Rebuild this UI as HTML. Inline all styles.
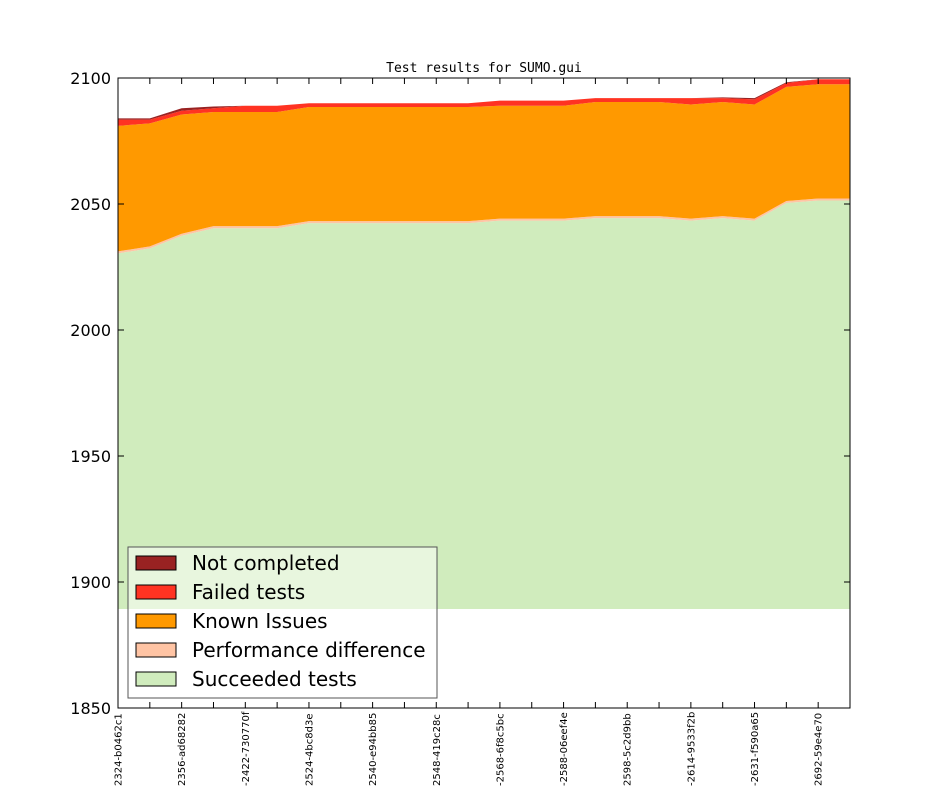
<!DOCTYPE html>
<html><head><meta charset="utf-8"><style>
html,body{margin:0;padding:0;background:#fff;width:944px;height:787px;overflow:hidden}
svg text{font-family:"DejaVu Sans","Liberation Sans",sans-serif}
</style></head><body>
<svg id="s" width="944" height="787" xmlns="http://www.w3.org/2000/svg">
<text x="484" y="72" text-anchor="middle" font-size="13" style="font-family:'DejaVu Sans Mono','Liberation Mono',monospace">Test results for SUMO.gui</text>
<g id="areas"></g>
<rect x="118" y="78" width="732" height="630" fill="none" stroke="#000" stroke-width="1"/>
<g id="ticks" stroke="#000" stroke-width="1"></g>
<g font-size="16" text-anchor="end">
<text x="111" y="84">2100</text>
<text x="111" y="210">2050</text>
<text x="111" y="336">2000</text>
<text x="111" y="462">1950</text>
<text x="111" y="588">1900</text>
<text x="111" y="714">1850</text>
</g>
<g id="xl" font-size="10"></g>
<rect x="128" y="547" width="309" height="151" fill="#fff" fill-opacity="0.5" stroke="#555" stroke-width="1"/>
<g stroke="#000" stroke-width="1">
<rect x="136" y="556" width="40" height="14" fill="#992222"/>
<rect x="136" y="585" width="40" height="14" fill="#ff3322"/>
<rect x="136" y="614" width="40" height="14" fill="#ff9900"/>
<rect x="136" y="643" width="40" height="14" fill="#ffc4a4"/>
<rect x="136" y="672" width="40" height="14" fill="#d0ecbd"/>
</g>
<g font-size="20">
<text x="192" y="570">Not completed</text>
<text x="192" y="599">Failed tests</text>
<text x="192" y="628">Known Issues</text>
<text x="192" y="657">Performance difference</text>
<text x="192" y="686">Succeeded tests</text>
</g>
</svg>
<script>
var G=[2031,2033,2038,2041,2041,2041,2043,2043,2043,2043,2043,2043,2044,2044,2044,2045,2045,2045,2044,2045,2044,2051,2052,2052].map(function(v){return v-0.6});
var K=[2081,2082,2085.5,2086.5,2086.5,2086.5,2088.5,2088.5,2088.5,2088.5,2088.5,2088.5,2089,2089,2089,2090.5,2090.5,2090.5,2089.5,2090.5,2089.5,2096.5,2097.5,2097.5];
var F=[2083.5,2083.5,2087,2088,2089,2089,2090,2090,2090,2090,2090,2090,2091,2091,2091,2092,2092,2092,2092,2092,2091.5,2098,2099.5,2099.5];
var N=[2084,2084,2088,2088.7,2089,2089,2090,2090,2090,2090,2090,2090,2091,2091,2091,2092,2092,2092,2092,2092.3,2092,2098.3,2099.5,2099.5];
function X(i){return 118+i*732/23}
function Y(v){return 78+(2100-v)*2.52}
var ns="http://www.w3.org/2000/svg";
function band(lo,hi,col){var p=[];for(var i=0;i<24;i++)p.push(X(i)+","+Y(hi[i]));for(var i=23;i>=0;i--)p.push(X(i)+","+Y(lo[i]));var e=document.createElementNS(ns,"polygon");e.setAttribute("points",p.join(" "));e.setAttribute("fill",col);document.getElementById("areas").appendChild(e);}
var B=G.map(function(){return 1889.3});
var P=G.map(function(v){return v+0.8});
band(B,G,"#d0ecbd");band(G,P,"#ffc4a4");band(P,K,"#ff9900");band(K,F,"#ff3322");band(F,N,"#992222");
var t=document.getElementById("ticks"),s="";
for(var i=0;i<24;i++){var x=X(i);s+='<line x1="'+x+'" y1="78" x2="'+x+'" y2="84"/><line x1="'+x+'" y1="708" x2="'+x+'" y2="702"/>';}
[78,204,330,456,582,708].forEach(function(y){s+='<line x1="118" y1="'+y+'" x2="124" y2="'+y+'"/><line x1="850" y1="'+y+'" x2="844" y2="'+y+'"/>';});
t.innerHTML=s;
var L=["2324-b0462c1","2356-ad68282","-2422-730770f","2524-4bc8d3e","2540-e94bb85","2548-419c28c","-2568-6f8c5bc","-2588-06eef4e","2598-5c2d9bb","-2614-9533f2b","-2631-f590a65","2692-59e4e70"];
var h="";L.forEach(function(l,j){var x=X(2*j)+3.5;h+='<text transform="translate('+x+',786) rotate(-90)">'+l+'</text>';});
document.getElementById("xl").innerHTML=h;
</script>
</body></html>
